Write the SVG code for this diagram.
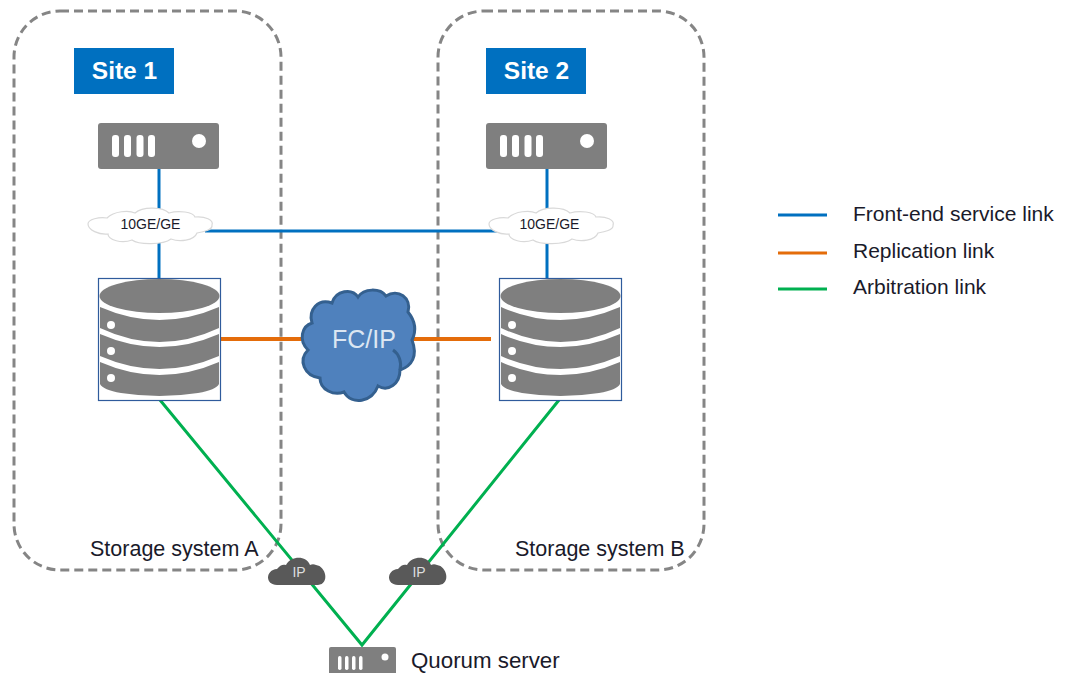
<svg xmlns="http://www.w3.org/2000/svg" width="1065" height="673" viewBox="0 0 1065 673">
<style>
text{font-family:"Liberation Sans",Arial,sans-serif;fill:#1a1a2a}
.site{fill:none;stroke:#858585;stroke-width:3;stroke-dasharray:9 5}
.tag{fill:#0070c0}
.tagt{fill:#fff;font-size:24.5px;font-weight:bold;text-anchor:middle}
.g{fill:#7f7f7f}
.w{fill:#fff}
.blue{stroke:#0070c0;stroke-width:3;fill:none}
.orange{stroke:#e46c0a;stroke-width:4;fill:none}
.green{stroke:#00b050;stroke-width:3;fill:none}
.lab{font-size:21px}
.small{font-size:14px;text-anchor:middle}
.ip{fill:#ddd;font-size:14px;text-anchor:middle}
</style>
<defs>
<g id="server">
<rect x="0" y="0" width="121" height="46" rx="3" class="g"/>
<rect x="14" y="12" width="7" height="22" rx="3" class="w"/>
<rect x="26" y="12" width="7" height="22" rx="3" class="w"/>
<rect x="38.500" y="12" width="7" height="22" rx="3" class="w"/>
<rect x="50" y="12" width="7" height="22" rx="3" class="w"/>
<circle cx="101" cy="18" r="7" class="w"/>
</g>
<g id="db">
<rect x="0.5" y="0.5" width="122" height="122" fill="#fff" stroke="#2f5b9c" stroke-width="1.2"/>
<ellipse cx="61.5" cy="18" rx="60" ry="17" class="g"/>
<path class="g" d="M2 29Q61.5 55 121 29V50Q61.5 78 2 50Z"/>
<path class="g" d="M2 56Q61.5 82 121 56V78Q61.500 104 2 78Z"/>
<path class="g" d="M2 84Q61.5 110 121 84V106Q118 112 100 115Q61.5 121 23 115Q5 112 2 106Z"/>
<circle cx="13" cy="47" r="4" class="w"/>
<circle cx="13" cy="73" r="4" class="w"/>
<circle cx="13" cy="100" r="4" class="w"/>
</g>
<path id="wcloud" d="M1 17C1 12 12 10 20 11C27 4 42 3 48 6C56 -1 76 0 82 6C92 3 106 5 108 10C118 9 127 13 125 18C126 23 116 25 110 26C107 34 92 35 84 32C76 38 52 38 45 33C35 37 21 33 21 27C12 28 1 23 1 17Z" fill="#fff" stroke="#d9d9d9" stroke-width="1.2"/>
<path id="ipcloud" d="M9 28C-3 28-3 13 9 12C12 8 15 7 18 8C23-1 38-2 42 8C44 7 46 7 48 8C58 9 62 27 50 28Z" fill="#595959"/>
</defs>
<g id="site-1-zone"><rect class="site" x="14" y="11" width="267" height="559" rx="46"/></g>
<g id="site-2-zone"><rect class="site" x="438" y="11" width="266" height="559" rx="46"/></g>
<g id="connectors">
<path class="blue" d="M159 169V278"/>
<path class="blue" d="M547 169V278"/>
<path class="blue" d="M205 231H505"/>
<path class="orange" d="M221 339H310"/>
<path class="orange" d="M410 339H491"/>
<path class="green" d="M160 400L362 645L559 400"/>
</g>
<g id="site-1"><rect class="tag" x="74" y="48" width="100" height="46"/><text class="tagt" x="124.500" y="79">Site 1</text></g>
<g id="site-2"><rect class="tag" x="486" y="48" width="100" height="46"/><text class="tagt" x="536.500" y="79">Site 2</text></g>
<g id="host-1"><use href="#server" x="98" y="123"/></g>
<g id="host-2"><use href="#server" x="486" y="123"/></g>
<g id="network-1"><use href="#wcloud" x="87" y="207"/><text class="small" x="150.500" y="229">10GE/GE</text></g>
<g id="network-2"><use href="#wcloud" x="488" y="207"/><text class="small" x="549.500" y="229">10GE/GE</text></g>
<g id="storage-a"><use href="#db" x="98" y="278"/></g>
<g id="storage-b"><use href="#db" x="499" y="278"/></g>
<g id="fc-ip">
<path d="M312 323C308 310 318 298 332 303C336 290 352 288 358 297C364 288 380 288 386 296C398 288 412 298 408 312C416 322 416 332 412 340C418 356 412 366 400 370C400 384 388 392 378 386C372 402 352 406 344 392C334 396 320 390 320 378C304 376 298 360 308 350C298 340 302 326 312 323Z" fill="#4f81bd" stroke="#34608f" stroke-width="3"/>
<path d="M393 350C399 354 402 362 400 370" fill="none" stroke="#34608f" stroke-width="3"/>
<text x="364" y="348" style="fill:#dce6f2;font-size:25px;text-anchor:middle">FC/IP</text>
</g>
<g id="ip-1"><use href="#ipcloud" x="268" y="557"/><text class="ip" style="fill:#ddd" x="299" y="577">IP</text></g>
<g id="ip-2"><use href="#ipcloud" x="389" y="557"/><text class="ip" style="fill:#ddd" x="419" y="577">IP</text></g>
<g id="quorum">
<rect x="329" y="647" width="67" height="30" rx="2" class="g"/>
<rect x="338" y="656" width="3.500" height="14" rx="1.700" class="w"/>
<rect x="345" y="656" width="3.500" height="14" rx="1.700" class="w"/>
<rect x="352" y="656" width="3.500" height="14" rx="1.700" class="w"/>
<rect x="359" y="656" width="3.500" height="14" rx="1.700" class="w"/>
<circle cx="385" cy="657" r="3.500" class="w"/>
<text class="lab" style="font-size:22.300px" x="411" y="668">Quorum server</text>
</g>
<text class="lab" style="font-size:21.500px" x="90" y="556">Storage system A</text>
<text class="lab" style="font-size:21.500px" x="515" y="556">Storage system B</text>
<g id="legend">
<path class="blue" d="M778 215H827"/>
<path style="stroke:#e46c0a;stroke-width:3;fill:none" d="M778 253H827"/>
<path class="green" d="M778 289H827"/>
<text class="lab" x="853" y="221">Front-end service link</text>
<text class="lab" x="853" y="258">Replication link</text>
<text class="lab" x="853" y="294">Arbitration link</text>
</g>
</svg>
